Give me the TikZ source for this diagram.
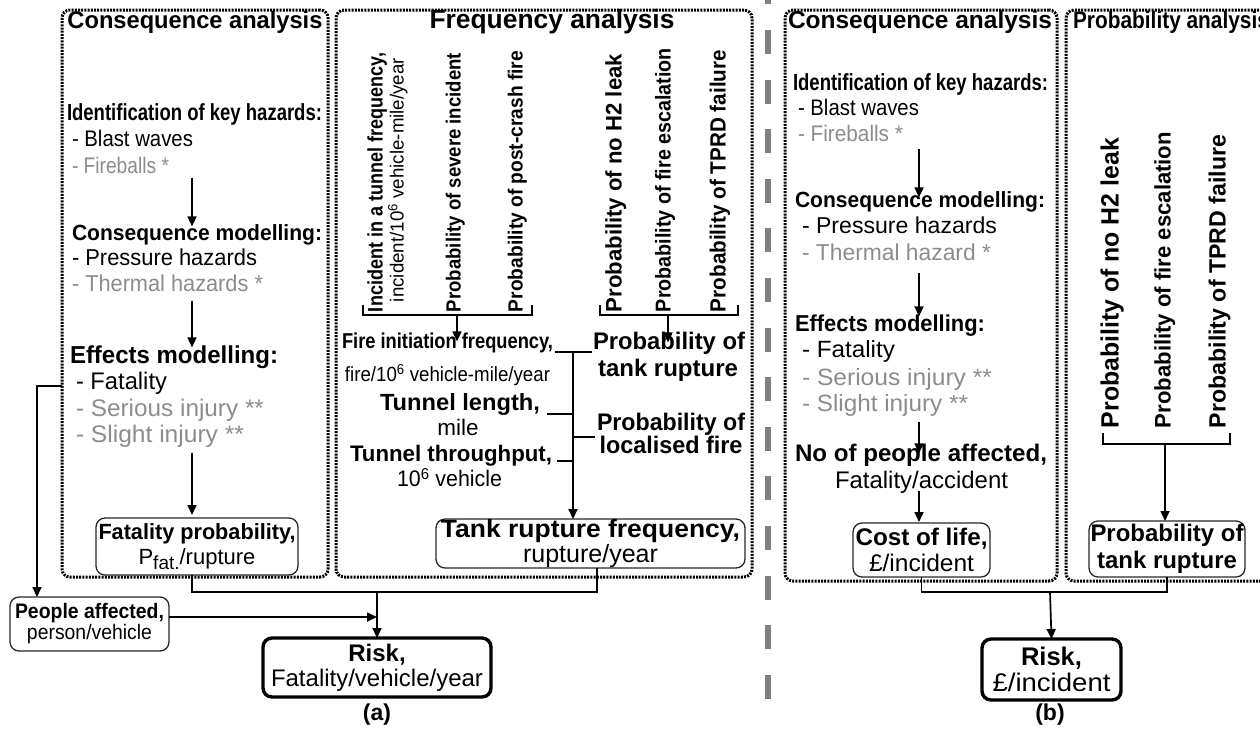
\documentclass[tikz,border=0pt]{standalone}
\usepackage{fontspec}
\setmainfont{Liberation Sans}
\usepackage{graphicx}
\usetikzlibrary{arrows.meta,calc}
\definecolor{gtxt}{HTML}{8C8C8C}
\definecolor{sepc}{HTML}{7F7F7F}
\newcommand\fz[2]{\fontsize{#1}{#2}\selectfont}
\newcommand\sqz[2]{\resizebox{#1pt}{\height}{#2}}
\begin{document}
\begin{tikzpicture}[x=1pt,y=-1pt,
  dotbox/.style={draw=black, line width=3pt, dash pattern=on 2pt off 1.2pt, rounded corners=8pt, inner sep=0pt, outer sep=0pt},
  rbox/.style={draw=black!85, line width=1.3pt, rounded corners=9pt, inner sep=0pt, outer sep=0pt, align=center},
  riskbox/.style={draw, line width=3.4pt, rounded corners=9pt, inner sep=0pt, outer sep=0pt, align=center},
  lbl/.style={inner sep=0pt, outer sep=0pt, anchor=west, text height=0.72em, text depth=0pt},
  ctr/.style={inner sep=0pt, outer sep=0pt, text height=0.72em, text depth=0pt},
  rot/.style={inner sep=0pt, outer sep=0pt, rotate=90, text height=0.72em, text depth=0pt},
  gr/.style={text=gtxt},
  ln/.style={line width=1.8pt},
  arr/.style={line width=1.7pt, -{Triangle[length=10pt,width=9pt]}},
  sepline/.style={draw=sepc, line width=5.5pt, dash pattern=on 24pt off 25.6pt},
]
\useasboundingbox (0,0) rectangle (1260,737);

% separator
\coordinate (sepT) at (768,-19.6);
\coordinate (sepB) at (768,700);
\draw[sepline] (sepT) -- (sepB);

% panels
\node[dotbox, minimum width=266pt, minimum height=567pt] (pCA) at (195,293.5) {};
\node[dotbox, minimum width=416pt, minimum height=567pt] (pFA) at (544,293.5) {};
\node[dotbox, minimum width=272pt, minimum height=571pt] (pCB) at (921,295.5) {};
\node[dotbox, minimum width=214pt, minimum height=571pt] (pPB) at (1173,295.5) {};

% titles
\node[ctr, font=\fz{24}{28}\bfseries] (tCA) at (195,25) {\sqz{255}{Consequence analysis}};
\node[ctr, font=\fz{26.4}{30}\bfseries] (tFA) at (552,25) {\sqz{245}{Frequency analysis}};
\node[ctr, font=\fz{24.5}{29}\bfseries] (tCB) at (920,25) {\sqz{264}{Consequence analysis}};
\node[lbl, font=\fz{24}{29}\bfseries] (tPB) at (1073,25) {\sqz{196}{Probability analysis}};

% ---------- (a) consequence list
\coordinate (axA) at (192,0);
\node[lbl, font=\fz{23.3}{27}\bfseries] (idA) at (67,117) {\sqz{255}{Identification of key hazards:}};
\node[lbl, font=\fz{22.5}{27}] (blastA) at (72,143) {\sqz{121}{- Blast waves}};
\node[lbl, font=\fz{22.5}{27}, gr] (fireA) at (72,170) {\sqz{97}{- Fireballs *}};
\node[lbl, font=\fz{22}{26}\bfseries] (consA) at (72,237) {\sqz{250}{Consequence modelling:}};
\node[lbl, font=\fz{23}{27}] (pressA) at (72,262) {\sqz{185}{- Pressure hazards}};
\node[lbl, font=\fz{23}{27}, gr] (thermA) at (72,288) {\sqz{191}{- Thermal hazards *}};
\node[lbl, font=\fz{24.5}{28}\bfseries] (effA) at (70,360) {\sqz{208}{Effects modelling:}};
\node[lbl, font=\fz{24}{28}] (fatA) at (76,386) {\sqz{91}{- Fatality}};
\node[lbl, font=\fz{24}{28}, gr] (serA) at (76,413) {\sqz{188}{- Serious injury **}};
\node[lbl, font=\fz{24}{28}, gr] (sliA) at (76,439) {\sqz{168}{- Slight injury **}};

\node[rbox, minimum width=202pt, minimum height=57pt, font=\fz{22}{25}] (fatbox) at (197,546.5)
  {\sqz{197}{\bfseries Fatality probability,}\\ P\raisebox{-5pt}{\fz{19}{19}fat.}/rupture};
\node[rbox, minimum width=309pt, minimum height=49pt, font=\fz{25}{23}] (tankbox) at (590.5,543.5)
  {\sqz{299}{\bfseries Tank rupture frequency,}\\ \sqz{135}{rupture/year}};
\node[rbox, minimum width=159pt, minimum height=54pt, font=\fz{21}{21}] (pplbox) at (89.5,624)
  {\sqz{149}{\bfseries People affected,}\\ \sqz{125}{person/vehicle}};
\node[riskbox, minimum width=228pt, minimum height=59pt, font=\fz{24}{25}] (riskA) at (377,667.5)
  {\textbf{Risk,}\\ \sqz{212}{Fatality/vehicle/year}};

\draw[arr, shorten <=4pt, shorten >=7pt] (fireA.south -| axA) -- (consA.north -| axA);
\draw[arr, shorten <=9pt, shorten >=9pt] (thermA.south -| axA) -- (effA.north -| axA);
\draw[arr, shorten <=10pt, shorten >=3pt] (sliA.south -| axA) -- (fatbox.north -| axA);

% ---------- (a) frequency analysis
\node[rot, font=\fz{21}{25}\bfseries] (r1a) at (379,182.5) {\sqz{259}{Incident in a tunnel frequency,}};
\node[rot, font=\fz{19}{23}] (r1b) at (400,180) {\sqz{244}{incident/10\textsuperscript{6} vehicle-mile/year}};
\node[rot, font=\fz{20.5}{25}\bfseries] (r2) at (457,182.5) {\sqz{259}{Probability of severe incident}};
\node[rot, font=\fz{20.5}{25}\bfseries] (r3) at (519,181.5) {\sqz{261}{Probability of post-crash fire}};
\node[rot, font=\fz{22.5}{27}\bfseries] (r4) at (618,183) {\sqz{258}{Probability of no H2 leak}};
\node[rot, font=\fz{21.5}{25}\bfseries] (r5) at (667,180) {\sqz{264}{Probability of fire escalation}};
\node[rot, font=\fz{22}{26}\bfseries] (r6) at (722,181) {\sqz{262}{Probability of TPRD failure}};

\coordinate (bA1) at (363,305);
\coordinate (bA2) at (532,305);
\coordinate (brA) at (457,315);
\coordinate (bB1) at (600,305);
\coordinate (bB2) at (738,305);
\coordinate (brB) at (668,315);
\draw[ln] (bA1) |- (brA) -| (bA2);
\draw[ln] (bB1) |- (brB) -| (bB2);

\node[ctr, font=\fz{21.5}{25}\bfseries] (fireI) at (447.5,345) {\sqz{211}{Fire initiation frequency,}};
\node[ctr, font=\fz{20.5}{24}] (fireU) at (447.5,378) {\sqz{205}{fire/10\textsuperscript{6} vehicle-mile/year}};
\node[ctr, font=\fz{23.4}{28}\bfseries] (tlen) at (460,407) {\sqz{160}{Tunnel length,}};
\node[ctr, font=\fz{22.5}{26}] (mile) at (458,432) {mile};
\node[ctr, font=\fz{22.5}{26}\bfseries] (tthr) at (451,458) {\sqz{202}{Tunnel throughput,}};
\node[ctr, font=\fz{22.5}{26}] (veh) at (449.5,483) {\sqz{105}{10\textsuperscript{6} vehicle}};
\node[ctr, font=\fz{24}{28}\bfseries] (pt1) at (669,346) {\sqz{152}{Probability of}};
\node[ctr, font=\fz{24}{28}\bfseries] (pt2) at (668,373) {\sqz{140}{tank rupture}};
\node[ctr, font=\fz{24}{28}\bfseries] (pl1) at (671,427) {\sqz{148}{Probability of}};
\node[ctr, font=\fz{24}{28}\bfseries] (pl2) at (671,450) {\sqz{143}{localised fire}};

\draw[arr] (brA) -- (fireI.north -| brA);
\draw[arr] (brB) -- (pt1.north -| brB);

\coordinate (busT) at (573,352);
\draw[ln] ($(fireI.east |- busT)+(2,0)$) -- ($(pt1.west |- busT)+(-1,0)$);
\draw[arr] (busT) -- (tankbox.north -| busT);
\draw[ln] ($(tlen.east)+(7,7)$) -- ++(26,0);
\draw[ln] ($(tthr.east)+(5,3)$) -- ++(16,0);
\draw[ln] ($(pl1.west)+(-24,10)$) -- ++(22,0);

% ---------- (a) bottom
\coordinate (axT) at (597,0);
\coordinate (axP) at (37,0);
\coordinate (busA) at (377,592);
\draw[ln] (fatbox.south -| axA) |- (busA) -| (tankbox.south -| axT);
\draw[arr] (busA) -- (riskA.north);
\draw[arr] ([yshift=7pt]pplbox.east) -- ([yshift=7pt]pplbox.east -| busA);
\draw[arr] (pCA.west |- fatA.west) -| (pplbox.north -| axP);
\node[ctr, font=\fz{23}{28}\bfseries] (labA) at (377,717) {(a)};

% ---------- (b) consequence
\coordinate (axB) at (919,0);
\node[lbl, font=\fz{23.3}{27}\bfseries] (idB) at (793,87) {\sqz{255}{Identification of key hazards:}};
\node[lbl, font=\fz{22.5}{27}] (blastB) at (798,112) {\sqz{121}{- Blast waves}};
\node[lbl, font=\fz{22.5}{27}, gr] (fireB) at (798,138) {\sqz{105}{- Fireballs *}};
\node[lbl, font=\fz{22}{26}\bfseries] (consB) at (795,204) {\sqz{250}{Consequence modelling:}};
\node[lbl, font=\fz{23}{27}] (pressB) at (802,230) {\sqz{195}{- Pressure hazards}};
\node[lbl, font=\fz{23}{27}, gr] (thermB) at (802,257) {\sqz{189}{- Thermal hazard *}};
\node[lbl, font=\fz{23}{27}\bfseries] (effB) at (795,328) {\sqz{190}{Effects modelling:}};
\node[lbl, font=\fz{23.5}{28}] (fatB) at (802,354) {\sqz{93}{- Fatality}};
\node[lbl, font=\fz{23.5}{28}, gr] (serB) at (802,382) {\sqz{190}{- Serious injury **}};
\node[lbl, font=\fz{23.5}{28}, gr] (sliB) at (802,408) {\sqz{166}{- Slight injury **}};
\node[lbl, font=\fz{24}{28}\bfseries] (noB) at (795,458) {\sqz{252}{No of people affected,}};
\node[ctr, font=\fz{24}{28}] (fataccB) at (921.5,485) {\sqz{173}{Fatality/accident}};
\node[rbox, minimum width=137pt, minimum height=54pt, font=\fz{24}{26}] (costbox) at (921.5,550)
  {\sqz{132}{\bfseries Cost of life,}\\ \sqz{105}{£/incident}};

\draw[arr, shorten <=7pt, shorten >=3pt] (fireB.south -| axB) -- (consB.north -| axB);
\draw[arr, shorten <=12pt, shorten >=8pt] (thermB.south -| axB) -- (effB.north -| axB);
\draw[arr, shorten <=10pt, shorten >=1pt] (sliB.south -| axB) -- (noB.north -| axB);
\draw[arr, shorten <=2pt, shorten >=1pt] (fataccB.south -| axB) -- (costbox.north -| axB);

% ---------- (b) probability
\node[rot, font=\fz{25}{30}\bfseries] (q4) at (1115,283) {\sqz{290}{Probability of no H2 leak}};
\node[rot, font=\fz{22.5}{26}\bfseries] (q5) at (1167,280) {\sqz{296}{Probability of fire escalation}};
\node[rot, font=\fz{23.5}{28}\bfseries] (q6) at (1222,281.5) {\sqz{293}{Probability of TPRD failure}};
\coordinate (bC1) at (1103,433);
\coordinate (bC2) at (1230,433);
\coordinate (brC) at (1165,444);
\draw[ln] (bC1) |- (brC) -| (bC2);
\node[rbox, minimum width=156pt, minimum height=56pt, font=\fz{24}{27}\bfseries] (probbox) at (1167,549)
  {\sqz{153}{Probability of}\\ \sqz{140}{tank rupture}};
\draw[arr] (brC) -- (probbox.north -| brC);

% ---------- (b) bottom
\node[riskbox, minimum width=139pt, minimum height=61pt, font=\fz{25.5}{26}] (riskB) at (1051.5,669.5)
  {\textbf{Risk,}\\ \sqz{118}{£/incident}};
\coordinate (busB) at (1050,592);
\draw[ln] (costbox.south) |- (busB) -| (probbox.south);
\draw[arr] (busB) -- (riskB.north);
\node[ctr, font=\fz{23}{28}\bfseries] (labB) at (1050,717) {(b)};
\end{tikzpicture}
\end{document}
